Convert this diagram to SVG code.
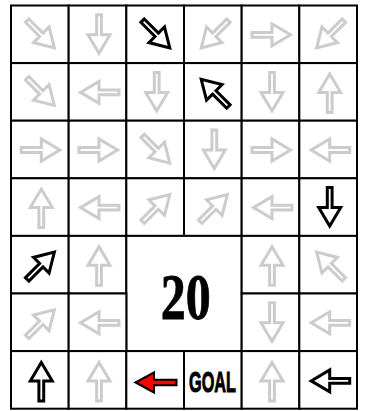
<svg xmlns="http://www.w3.org/2000/svg" width="367" height="411" viewBox="0 0 367 411">
<style>
.cell{fill:#ffffff;stroke:#000000;stroke-width:2}
.g{fill:#ffffff;stroke:#cccccc;stroke-width:3;stroke-linejoin:miter}
.b{fill:#ffffff;stroke:#000000;stroke-width:3;stroke-linejoin:miter}
.num{font-family:"Liberation Serif",serif;font-weight:bold;font-size:65px;fill:#000;stroke:#000;stroke-width:0.8}
.goal{font-family:"Liberation Sans",Arial,sans-serif;font-weight:bold;font-size:30px;fill:#000;stroke:#000;stroke-width:1}
</style>
<defs>
<path id="ar" d="M-20,-2.4 H0 V-11 L18.5,0 L0,11 V2.4 H-20 Z"/>
</defs>
<rect width="367" height="411" fill="#ffffff"/>
<g id="grid">
<rect class="cell" x="11" y="5.5" width="57.67" height="57.6"/><rect class="cell" x="68.67" y="5.5" width="57.66" height="57.6"/><rect class="cell" x="126.33" y="5.5" width="57.67" height="57.6"/><rect class="cell" x="184" y="5.5" width="57.67" height="57.6"/><rect class="cell" x="241.67" y="5.5" width="57.66" height="57.6"/><rect class="cell" x="299.33" y="5.5" width="57.67" height="57.6"/>
<rect class="cell" x="11" y="63.1" width="57.67" height="57.6"/><rect class="cell" x="68.67" y="63.1" width="57.66" height="57.6"/><rect class="cell" x="126.33" y="63.1" width="57.67" height="57.6"/><rect class="cell" x="184" y="63.1" width="57.67" height="57.6"/><rect class="cell" x="241.67" y="63.1" width="57.66" height="57.6"/><rect class="cell" x="299.33" y="63.1" width="57.67" height="57.6"/>
<rect class="cell" x="11" y="120.7" width="57.67" height="57.6"/><rect class="cell" x="68.67" y="120.7" width="57.66" height="57.6"/><rect class="cell" x="126.33" y="120.7" width="57.67" height="57.6"/><rect class="cell" x="184" y="120.7" width="57.67" height="57.6"/><rect class="cell" x="241.67" y="120.7" width="57.66" height="57.6"/><rect class="cell" x="299.33" y="120.7" width="57.67" height="57.6"/>
<rect class="cell" x="11" y="178.3" width="57.67" height="57.6"/><rect class="cell" x="68.67" y="178.3" width="57.66" height="57.6"/><rect class="cell" x="126.33" y="178.3" width="57.67" height="57.6"/><rect class="cell" x="184" y="178.3" width="57.67" height="57.6"/><rect class="cell" x="241.67" y="178.3" width="57.66" height="57.6"/><rect class="cell" x="299.33" y="178.3" width="57.67" height="57.6"/>
<rect class="cell" x="11" y="235.9" width="57.67" height="57.6"/><rect class="cell" x="68.67" y="235.9" width="57.66" height="57.6"/><rect class="cell" x="126.33" y="235.9" width="115.34" height="115.2"/><rect class="cell" x="241.67" y="235.9" width="57.66" height="57.6"/><rect class="cell" x="299.33" y="235.9" width="57.67" height="57.6"/>
<rect class="cell" x="11" y="293.5" width="57.67" height="57.6"/><rect class="cell" x="68.67" y="293.5" width="57.66" height="57.6"/><rect class="cell" x="241.67" y="293.5" width="57.66" height="57.6"/><rect class="cell" x="299.33" y="293.5" width="57.67" height="57.6"/>
<rect class="cell" x="11" y="351.1" width="57.67" height="57.6"/><rect class="cell" x="68.67" y="351.1" width="57.66" height="57.6"/><rect class="cell" x="126.33" y="351.1" width="57.67" height="57.6"/><rect class="cell" x="184" y="351.1" width="57.67" height="57.6"/><rect class="cell" x="241.67" y="351.1" width="57.66" height="57.6"/><rect class="cell" x="299.33" y="351.1" width="57.67" height="57.6"/>
</g>
<g id="arrows">
<g id="r0">
<use href="#ar" class="g" transform="translate(41.3,34.8) rotate(45)"/>
<use href="#ar" class="g" transform="translate(99,34.8) rotate(90)"/>
<use href="#ar" class="b" transform="translate(156.7,34.8) rotate(45)"/>
<use href="#ar" class="g" transform="translate(214.3,34.8) rotate(135)"/>
<use href="#ar" class="g" transform="translate(272,34.8) rotate(0)"/>
<use href="#ar" class="g" transform="translate(329.7,34.8) rotate(135)"/>
</g>
<g id="r1">
<use href="#ar" class="g" transform="translate(41.3,92.4) rotate(45)"/>
<use href="#ar" class="g" transform="translate(99,92.4) rotate(180)"/>
<use href="#ar" class="g" transform="translate(156.7,92.4) rotate(90)"/>
<use href="#ar" class="b" transform="translate(214.3,92.4) rotate(-135)"/>
<use href="#ar" class="g" transform="translate(272,92.4) rotate(90)"/>
<use href="#ar" class="g" transform="translate(329.7,92.4) rotate(-90)"/>
</g>
<g id="r2">
<use href="#ar" class="g" transform="translate(41.3,150) rotate(0)"/>
<use href="#ar" class="g" transform="translate(99,150) rotate(0)"/>
<use href="#ar" class="g" transform="translate(156.7,150) rotate(45)"/>
<use href="#ar" class="g" transform="translate(214.3,150) rotate(90)"/>
<use href="#ar" class="g" transform="translate(272,150) rotate(0)"/>
<use href="#ar" class="g" transform="translate(329.7,150) rotate(180)"/>
</g>
<g id="r3">
<use href="#ar" class="g" transform="translate(41.3,207.6) rotate(-90)"/>
<use href="#ar" class="g" transform="translate(99,207.6) rotate(180)"/>
<use href="#ar" class="g" transform="translate(156.7,207.6) rotate(-45)"/>
<use href="#ar" class="g" transform="translate(214.3,207.6) rotate(-45)"/>
<use href="#ar" class="g" transform="translate(272,207.6) rotate(180)"/>
<use href="#ar" class="b" transform="translate(329.7,207.6) rotate(90)"/>
</g>
<g id="r4">
<use href="#ar" class="b" transform="translate(41.3,265.2) rotate(-45)"/>
<use href="#ar" class="g" transform="translate(99,265.2) rotate(-90)"/>
<use href="#ar" class="g" transform="translate(272,265.2) rotate(-90)"/>
<use href="#ar" class="g" transform="translate(329.7,265.2) rotate(-135)"/>
</g>
<g id="r5">
<use href="#ar" class="g" transform="translate(41.3,322.8) rotate(-45)"/>
<use href="#ar" class="g" transform="translate(99,322.8) rotate(180)"/>
<use href="#ar" class="g" transform="translate(272,322.8) rotate(90)"/>
<use href="#ar" class="g" transform="translate(329.7,322.8) rotate(180)"/>
</g>
<g id="r6">
<use href="#ar" class="b" transform="translate(41.3,380.9) rotate(-90)"/>
<use href="#ar" class="g" transform="translate(99,380.9) rotate(-90)"/>
<path id="red-arrow" d="M135.5,382.5 L154,372.5 V379.8 H176.5 V385.2 H154 V392.5 Z" fill="#ff0000" stroke="#000000" stroke-width="2" stroke-linejoin="miter"/>
<use href="#ar" class="g" transform="translate(272,380.9) rotate(-90)"/>
<use href="#ar" class="b" transform="translate(329.7,380.9) rotate(180)"/>
</g>
</g>
<g id="count">
<text class="num" x="185.7" y="319.3" text-anchor="middle" textLength="50" lengthAdjust="spacingAndGlyphs">20</text>
</g>
<g id="goal">
<text class="goal" x="212.5" y="392" text-anchor="middle" textLength="47" lengthAdjust="spacingAndGlyphs">GOAL</text>
</g>
</svg>
